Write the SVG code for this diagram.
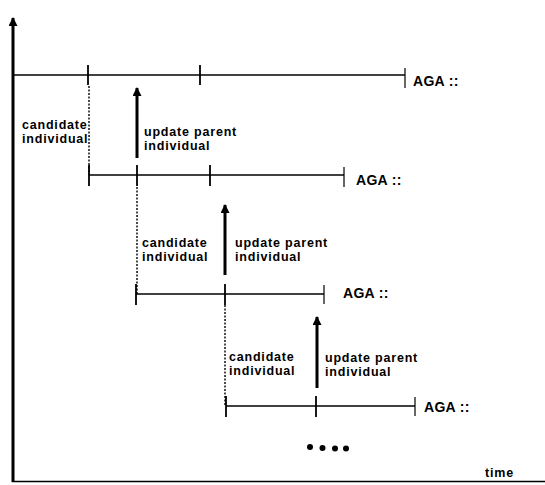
<svg xmlns="http://www.w3.org/2000/svg" width="545" height="485" viewBox="0 0 545 485">
<style>
.t{font-family:"Liberation Sans",Arial,sans-serif;font-weight:bold;font-size:12.5px;letter-spacing:0.8px;fill:#000}
.aga{font-family:"Liberation Sans",Arial,sans-serif;font-weight:bold;font-size:14px;letter-spacing:0.3px;fill:#000}
.ln{stroke:#000;stroke-width:1.5;fill:none}
.tk{stroke:#000;stroke-width:1.8;fill:none}
.et{stroke:#000;stroke-width:1.2;fill:none}
.dt{stroke:#000;stroke-width:1.4;stroke-dasharray:2 1.5;fill:none}
.ar{stroke:#000;stroke-width:3;fill:none}
</style>
<defs>
<marker id="ah" viewBox="0 0 10 10" refX="9" refY="5" markerWidth="3.5" markerHeight="3" orient="auto" markerUnits="strokeWidth">
<path d="M0,0 L10,5 L0,10 z" fill="#000"/>
</marker>
</defs>
<rect width="545" height="485" fill="#fff"/>
<g id="axes">
<line x1="13" y1="482" x2="13" y2="18" class="ar" stroke-width="2.5" marker-end="url(#ah)"/>
<line x1="12" y1="481.5" x2="545" y2="481.5" class="ln" stroke-width="2.5"/>
<text x="485" y="477" class="t" font-size="11" letter-spacing="0.8">time</text>
</g>
<g id="connectors">
<line x1="137" y1="158" x2="137" y2="88" class="ar" marker-end="url(#ah)"/>
<line x1="225" y1="275" x2="225" y2="205" class="ar" marker-end="url(#ah)"/>
<line x1="317" y1="388" x2="317" y2="317" class="ar" marker-end="url(#ah)"/>
<line x1="89" y1="86" x2="89" y2="175" class="dt"/>
<line x1="137" y1="187" x2="137" y2="294" class="dt"/>
<line x1="225" y1="305" x2="225" y2="405" class="dt"/>
</g>
<g id="row1">
<line x1="13" y1="75" x2="405" y2="75" class="ln"/>
<line x1="88" y1="65" x2="88" y2="85" class="tk"/>
<line x1="200" y1="65" x2="200" y2="85" class="tk"/>
<line x1="405" y1="68" x2="405" y2="88" class="et"/>
<text x="413" y="86" class="aga">AGA ::</text>
<text x="22" y="129" class="t">candidate</text>
<text x="22" y="143" class="t">individual</text>
<text x="144" y="136" class="t">update parent</text>
<text x="144" y="150" class="t">individual</text>
</g>
<g id="row2">
<line x1="89" y1="175" x2="344" y2="175" class="ln"/>
<line x1="89" y1="165" x2="89" y2="186" class="tk"/>
<line x1="137" y1="165" x2="137" y2="186" class="tk"/>
<line x1="210" y1="165" x2="210" y2="186" class="tk"/>
<line x1="344" y1="167" x2="344" y2="187" class="et"/>
<text x="356" y="185" class="aga">AGA ::</text>
<text x="142" y="247" class="t">candidate</text>
<text x="142" y="261" class="t">individual</text>
<text x="235" y="247" class="t">update parent</text>
<text x="235" y="261" class="t">individual</text>
</g>
<g id="row3">
<line x1="136" y1="294" x2="324" y2="294" class="ln"/>
<line x1="136" y1="284" x2="136" y2="305" class="tk"/>
<line x1="225" y1="284" x2="225" y2="305" class="tk"/>
<line x1="324" y1="285" x2="324" y2="304" class="et"/>
<text x="343" y="298" class="aga">AGA ::</text>
<text x="229" y="361" class="t">candidate</text>
<text x="229" y="375" class="t">individual</text>
<text x="325" y="362" class="t">update parent</text>
<text x="325" y="376" class="t">individual</text>
</g>
<g id="row4">
<line x1="226" y1="406" x2="415" y2="406" class="ln"/>
<line x1="226" y1="396" x2="226" y2="417" class="tk"/>
<line x1="316" y1="396" x2="316" y2="417" class="tk"/>
<line x1="415" y1="397" x2="415" y2="416" class="et"/>
<text x="424" y="412" class="aga">AGA ::</text>
</g>
<g id="ellipsis">
<circle cx="310" cy="447" r="3"/>
<circle cx="322.5" cy="448" r="3"/>
<circle cx="335" cy="448.5" r="3"/>
<circle cx="346" cy="448.5" r="3"/>
</g>
</svg>
